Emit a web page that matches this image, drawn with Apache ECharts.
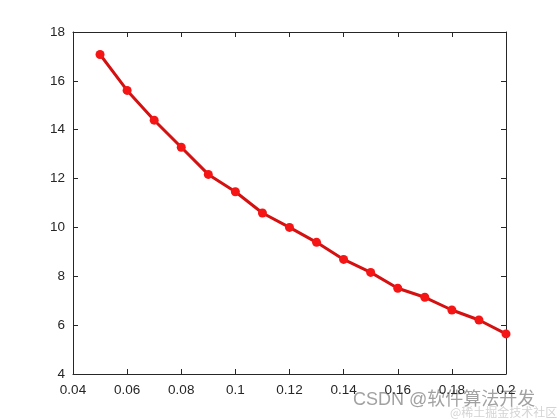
<!DOCTYPE html>
<html>
<head>
<meta charset="utf-8">
<script src="https://cdn.jsdelivr.net/npm/echarts@6/dist/echarts.min.js"></script>
<style>html,body{margin:0;padding:0;background:#fff}#c{width:560px;height:420px}</style>
</head>
<body>
<div id="c"></div>
<script>
var xValues = [0.05,0.06,0.07,0.08,0.09,0.10,0.11,0.12,0.13,0.14,0.15,0.16,0.17,0.18,0.19,0.20];
var yValues = [17.08,15.61,14.39,13.28,12.17,11.46,10.59,10.0,9.39,8.69,8.16,7.51,7.14,6.62,6.21,5.64];
var xTicks = {min:0.04,max:0.2,interval:0.02};
var yTicks = {min:4,max:18,interval:2};
var watermark = 'CSDN @软件算法开发';
var watermark2 = '@稀土掘金技术社区';

var chart = echarts.init(document.getElementById('c'), null, {renderer:'canvas'});
var font = 'Liberation Sans, Arial, sans-serif';
var axisLine = {show:true, lineStyle:{color:'#262626', width:1}};
var tick = {show:true, inside:true, length:5, lineStyle:{color:'#262626', width:1}};
var pts = xValues.map(function(x,i){return [x, yValues[i]];});
chart.setOption({
  animation:false,
  backgroundColor:'#fff',
  grid:{left:73, right:54, top:32, bottom:46, containLabel:false},
  xAxis:[
    {type:'value', min:xTicks.min, max:xTicks.max, interval:xTicks.interval, position:'bottom',
     axisLine:axisLine, axisTick:tick, splitLine:{show:false},
     axisLabel:{color:'#262626', fontSize:13.5, fontFamily:font, margin:9,
       formatter:function(v){return String(parseFloat(v.toFixed(4)));}}},
    {type:'value', min:xTicks.min, max:xTicks.max, interval:xTicks.interval, position:'top',
     axisLine:axisLine, axisTick:tick, splitLine:{show:false}, axisLabel:{show:false}}
  ],
  yAxis:[
    {type:'value', min:yTicks.min, max:yTicks.max, interval:yTicks.interval, position:'left',
     axisLine:axisLine, axisTick:tick, splitLine:{show:false},
     axisLabel:{color:'#262626', fontSize:13.5, fontFamily:font, margin:8}},
    {type:'value', min:yTicks.min, max:yTicks.max, interval:yTicks.interval, position:'right',
     axisLine:axisLine, axisTick:tick, splitLine:{show:false}, axisLabel:{show:false}}
  ],
  series:[{
    type:'line', data:pts, xAxisIndex:0, yAxisIndex:0,
    symbol:'circle', symbolSize:9, showAllSymbol:true,
    lineStyle:{color:'#d41010', width:3},
    itemStyle:{color:'#f51515', borderWidth:0}
  }],
  graphic:[
    {type:'text', left:353, top:391, silent:true,
     style:{text:watermark, fontSize:18, fontFamily:'Liberation Sans, Noto Sans CJK SC, sans-serif', fill:'rgba(130,130,130,0.75)'}},
    {type:'text', left:450, top:406, silent:true,
     style:{text:watermark2, fontSize:12, fontFamily:'Noto Sans CJK SC, sans-serif', fill:'rgba(160,160,160,0.45)'}}
  ]
});
</script>
</body>
</html>
